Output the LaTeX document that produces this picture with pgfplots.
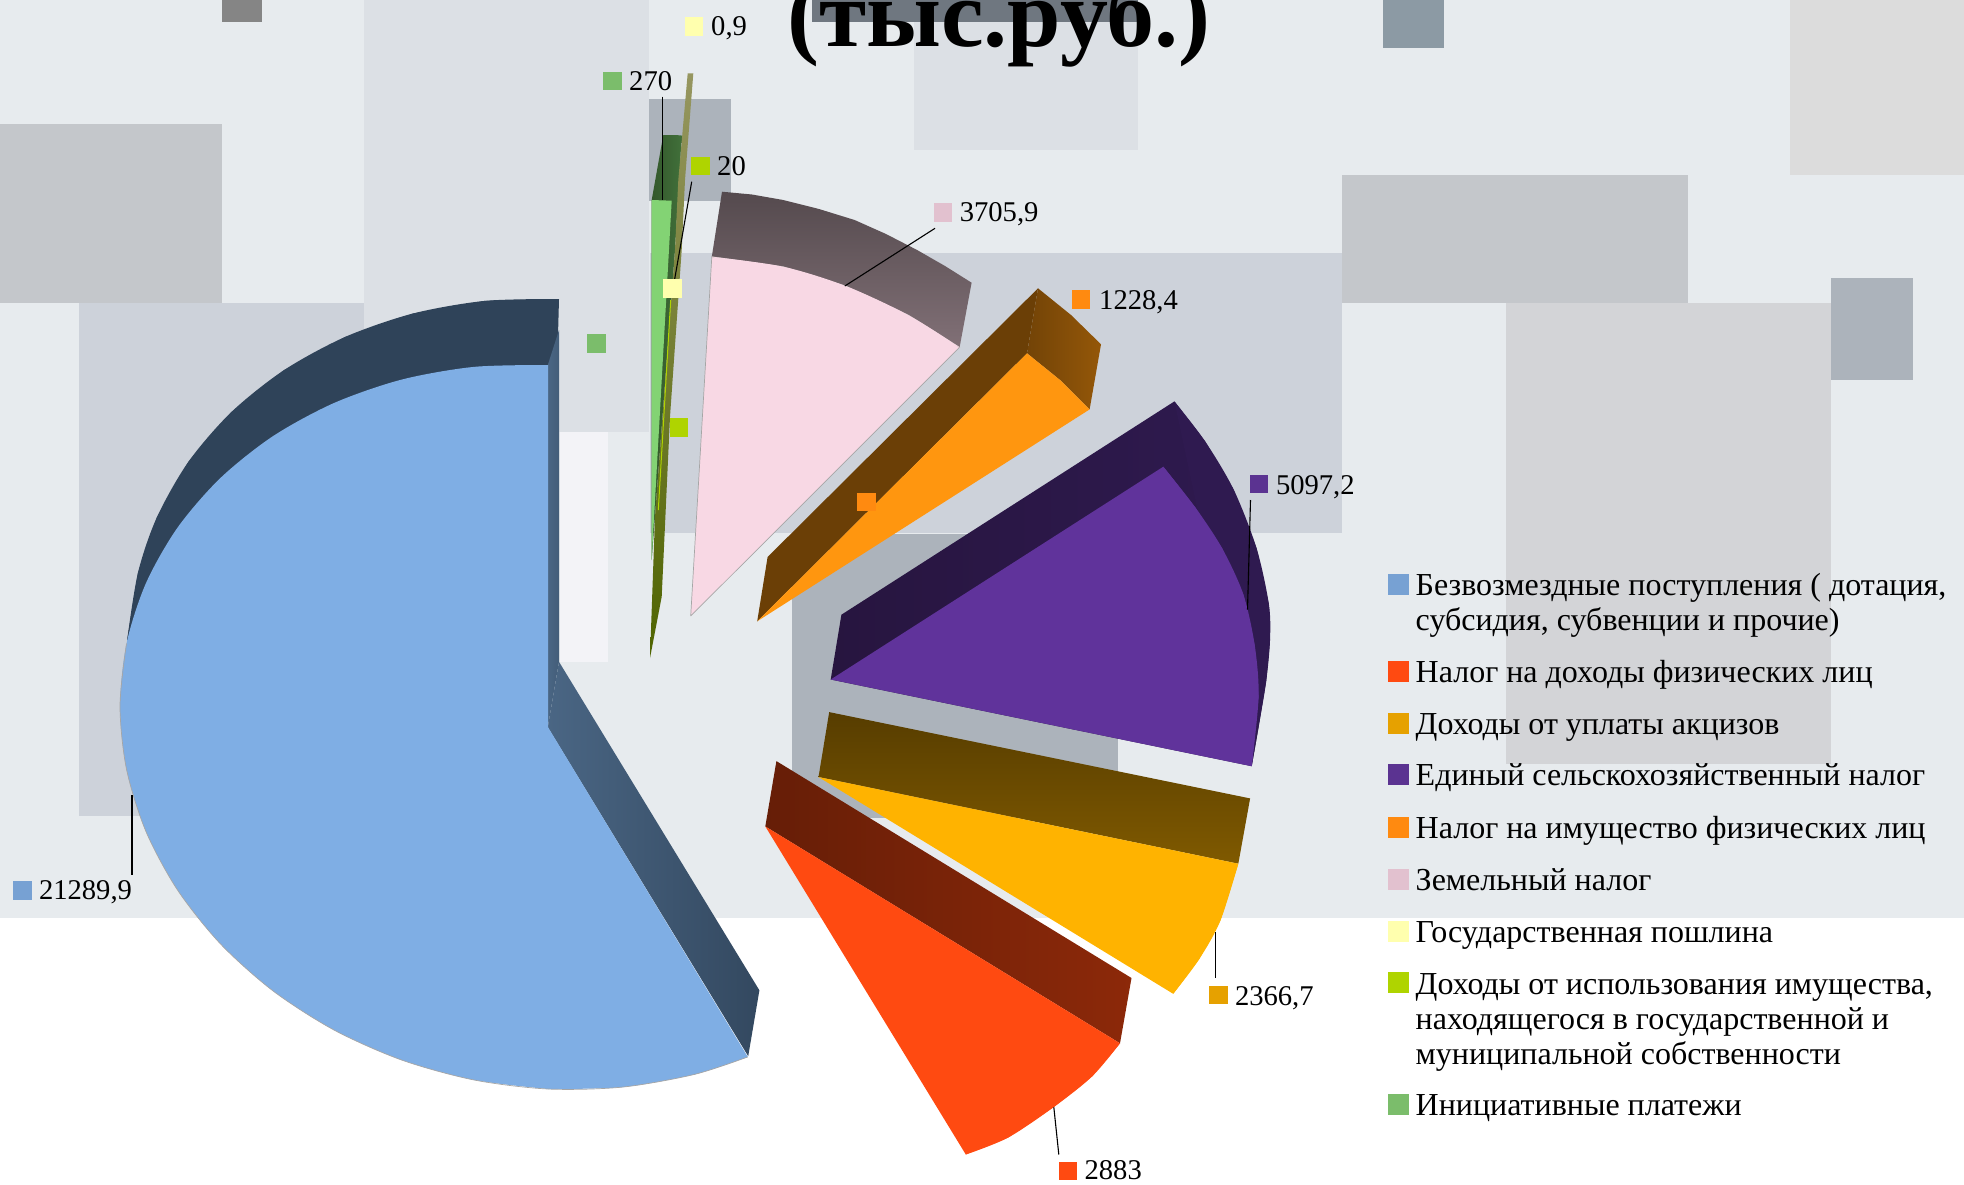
\documentclass[border=0pt]{standalone}
\usepackage{fontspec}
\setmainfont{Liberation Serif}
\usepackage{pgfplots}
\pgfplotsset{compat=1.18}
\definecolor{bgbase}{HTML}{E7EBEE}
\definecolor{cA}{HTML}{DCE0E5}
\definecolor{cB}{HTML}{C4C7CB}
\definecolor{cC}{HTML}{CDD2DA}
\definecolor{cD}{HTML}{ACB3BB}
\definecolor{cE}{HTML}{D3D4D7}
\definecolor{cF}{HTML}{858585}
\definecolor{cG}{HTML}{6F7780}
\definecolor{cH}{HTML}{8C9AA4}
\definecolor{cI}{HTML}{DCDCDC}
\definecolor{cJ}{HTML}{F3F3F7}
\definecolor{mblue}{HTML}{77A1D3}
\definecolor{mred}{HTML}{FF4A11}
\definecolor{mgold}{HTML}{E6A100}
\definecolor{mpurple}{HTML}{5B3391}
\definecolor{morange}{HTML}{FF8A10}
\definecolor{mpink}{HTML}{E2C1CF}
\definecolor{myellow}{HTML}{FFFFAE}
\definecolor{mlime}{HTML}{AFD400}
\definecolor{mgreen}{HTML}{7BBD6B}
\definecolor{fblue}{HTML}{7FAEE4}
\definecolor{dblue}{HTML}{2F4359}
\definecolor{lblue}{HTML}{4A6684}
\definecolor{fred}{HTML}{FF4A11}
\definecolor{fyel}{HTML}{FFB300}
\definecolor{fpur}{HTML}{60339B}
\definecolor{dpur}{HTML}{27153F}
\definecolor{lpur}{HTML}{2F1A50}
\definecolor{ford}{HTML}{FF960F}
\definecolor{fpink}{HTML}{F8D8E4}
\definecolor{fgreen}{HTML}{83D374}
\definecolor{dgreen}{HTML}{33572B}
\definecolor{lgreen}{HTML}{41703A}
\definecolor{olA}{HTML}{969660}
\definecolor{olB}{HTML}{7C7C50}
\definecolor{olC}{HTML}{4F6400}
\newcommand{\rect}[5]{\addplot[fill=#1,draw=none] coordinates {(#2,#3) (#4,#3) (#4,#5) (#2,#5)};}
\newcommand{\sq}[4]{\addplot[only marks,color=#1,mark=square*,mark size=#4pt,mark options={solid,fill=#1,draw=#1,line width=0pt}] coordinates {(#2,#3)};}
\newcommand{\ldr}[4]{\addplot[black,line width=1.1pt] coordinates {(#1,#2) (#3,#4)};}
\newcommand{\lbl}[3]{\node[anchor=base west,inner sep=0pt,font=\fontsize{28.6}{34}\selectfont] at (axis cs:#1,#2) {#3};}
\newcommand{\leg}[3]{\node[anchor=base west,inner sep=0pt,font=\fontsize{32}{36}\selectfont] at (axis cs:#1,#2) {#3};}
\begin{document}
\begin{tikzpicture}
\useasboundingbox (0,0) rectangle (1964pt,1184pt);
\clip (0,0) rectangle (1964pt,1184pt);
\begin{axis}[at={(0,0)},anchor=south west,width=1964pt,height=1184pt,scale only axis,
  xmin=0,xmax=1964,ymin=0,ymax=1184,y dir=reverse,hide axis,clip=false]
% background
\rect{bgbase}{0}{0}{1964}{918}
\rect{cF}{222}{0}{262}{22}
\rect{cA}{364}{0}{649}{432}
\rect{cB}{0}{124}{222}{303}
\rect{cC}{79}{303}{364}{816}
\rect{cC}{650}{253}{1342}{533}
\rect{cD}{649}{99}{730.5}{201}
\rect{cA}{914}{22}{1138}{150}
\rect{cG}{812}{0}{1138}{22}
\rect{cJ}{560}{432}{608}{662}
\rect{cB}{1342}{175}{1688}{303}
\rect{cE}{1506}{303}{1831}{764}
\rect{cD}{1831}{278}{1913}{380}
\rect{cD}{792}{534}{1118}{818}
\rect{cH}{1383}{0}{1444}{48}
\rect{cI}{1790}{0}{1964}{175}
% blue wedge: extrusion
\addplot[fill=dblue,draw=none,smooth] coordinates {(559,299) (484.7,300.9) (412.6,313.6) (345,337) (283.9,370.2) (231.2,412.2) (188.4,461.8) (156.8,517.5) (137.9,573) (127,641)};
\addplot[fill=dblue,draw=none] coordinates {(559,299) (484.7,300.9) (412.6,313.6) (345,337) (283.9,370.2) (231.2,412.2) (188.4,461.8) (156.8,517.5) (137.9,573) (127,641) (548,700)};
\addplot[draw=none,left color=lblue,right color=lblue!75!dblue] coordinates {(547.8,365) (559,330) (559,661.8) (547.8,727.2)};
\addplot[draw=none,left color=lblue,right color=dblue!85!lblue] coordinates {(547.8,727.2) (559,661.8) (759.4,990.3) (748.2,1056.2)};
\addplot[fill=fblue,draw=none,smooth] coordinates {(548,365) (473.7,366.9) (401.6,379.6) (334,403) (272.9,436.2) (220.2,478.2) (177.4,527.8) (145.8,583.5) (126.5,643.5) (120,706) (126.5,769.1) (145.8,831.1) (177.4,889.8) (220.2,943.6) (272.9,990.8) (334,1030) (401.6,1060) (473.7,1079.9) (548,1089)};
\addplot[fill=fblue,draw=none,smooth] coordinates {(548,1089) (622.3,1087.1) (694.4,1074.4) (747.8,1056.9)};
\addplot[fill=fblue,draw=none] coordinates {(548,727.2) (548,1089) (622.3,1087.1) (694.4,1074.4) (747.8,1056.9)};
\addplot[draw=gray!70,line width=0.7pt,smooth,fill=none] coordinates {(126.5,643.5) (120,706) (126.5,769.1) (145.8,831.1) (177.4,889.8) (220.2,943.6) (272.9,990.8) (334,1030) (401.6,1060) (473.7,1079.9) (548,1089) (622.3,1087.1) (694.4,1074.4) (747.8,1056.9)};
% red wedge
\addplot[draw=none,left color=black!60!fred,right color=black!45!fred] coordinates {(765.3,826.4) (776.4,761.1) (1131.5,978) (1120,1043.3)};
\addplot[fill=fred,draw=none] coordinates {(765.3,826.4) (1120,1043.3) (1092.1,1076.4) (1053.8,1107) (1007.9,1137.7) (965.8,1154.5)};
\addplot[fill=fred,draw=none,smooth] coordinates {(965.8,1154.5) (1007.9,1137.7) (1053.8,1107) (1092.1,1076.4) (1120,1043.3)};
% yellow wedge
\addplot[draw=none,top color=black!66!fyel,bottom color=black!50!fyel] coordinates {(818.5,777) (829.2,712.1) (1250.1,798.4) (1238.3,863.7)};
\addplot[fill=fyel,draw=none] coordinates {(818.5,777) (1238.3,863.7) (1220.3,920.8) (1199.2,959.1) (1173.2,993.8)};
\addplot[fill=fyel,draw=none,smooth] coordinates {(1173.2,993.8) (1199.2,959.1) (1220.3,920.8) (1238.3,863.7)};
% purple wedge
\addplot[draw=none,left color=dpur,right color=lpur] coordinates {(830.7,679.5) (841.4,614.7) (1174.4,401.4) (1205,441.2) (1233.7,489.7) (1256.6,548.4) (1268.9,604.5) (1270,640.2) (1266.2,681) (1258.6,726.9) (1251.7,766.2)};
\addplot[fill=lpur,draw=none,smooth] coordinates {(1174.4,401.4) (1205,441.2) (1233.7,489.7) (1256.6,548.4) (1268.9,604.5) (1270,640.2) (1266.2,681) (1258.6,726.9) (1251.7,766.2)};
\addplot[fill=fpur,draw=none] coordinates {(830.7,679.5) (1163.3,466.7) (1195.4,507.6) (1222.2,548.4) (1243.3,594.3) (1254.7,645.3) (1258.6,696.3) (1251.7,766.2)};
\addplot[fill=fpur,draw=none,smooth] coordinates {(1163.3,466.7) (1195.4,507.6) (1222.2,548.4) (1243.3,594.3) (1254.7,645.3) (1258.6,696.3) (1251.7,766.2)};
% orange wedge
\addplot[fill=black!58!ford,draw=none] coordinates {(757.2,621.3) (767.6,557) (1038,288.3) (1027,353.3)};
\addplot[draw=none,left color=black!55!ford,right color=black!42!ford] coordinates {(1038,288.3) (1071,315) (1101,344.3) (1089.6,409.4) (1060,380) (1027,353.3)};
\addplot[fill=ford,draw=none] coordinates {(757.2,621.3) (1027,353.3) (1060,380) (1089.6,409.4)};
% pink wedge
\addplot[draw=none,top color=black!66!fpink,bottom color=black!48!fpink] coordinates {(722,191.7) (711.8,256.7) (959.6,347.3) (971.6,282.7) (945,266) (917.1,250) (886,234) (854.6,220) (819,209) (783.2,200) (752,194.5)};
\addplot[fill=fpink,draw=gray!70,line width=0.7pt] coordinates {(690.7,616) (711.8,256.7) (783.2,266.7) (845.7,286) (908.2,315) (959.6,347.3) (690.7,616)};
\addplot[fill=fpink,draw=none,smooth] coordinates {(711.8,256.7) (783.2,266.7) (845.7,286) (908.2,315) (959.6,347.3)};
% thin green wedge
\addplot[draw=none,left color=dgreen,right color=lgreen] coordinates {(651.7,200) (663.3,135) (681.7,135.3) (675,250) (651.7,560)};
\addplot[fill=fgreen,draw=none] coordinates {(651.7,200) (671.7,200.7) (651.7,560)};
% thin olive wedge
\addplot[draw=none,top color=olA,middle color=olB,bottom color=olC] coordinates {(687.7,73.3) (693.3,73.3) (685,180) (681.7,250) (670,416.7) (661.7,596.7) (650,658) (655,516.7) (675,250) (678.3,180)};
\addplot[mlime,line width=1pt] coordinates {(670.7,300) (658.3,510)};
% leaders
\ldr{662.3}{96.7}{662.3}{200}
\ldr{691.7}{181.7}{671.6}{296.7}
\ldr{935}{228.3}{844.8}{286}
\ldr{1250.5}{500}{1247.5}{609.6}
\ldr{1215.3}{932}{1215.3}{978}
\ldr{1053.8}{1107}{1058.8}{1154.5}
\ldr{132}{795}{132}{874.7}
% data label markers
\sq{myellow}{693.9}{26.3}{8.8}
\sq{mgreen}{612.7}{81}{8.8}
\sq{mlime}{700.6}{166}{8.8}
\sq{mpink}{943}{212.7}{8.8}
\sq{morange}{1081}{299.3}{8.8}
\sq{mpurple}{1259}{484}{8.8}
\sq{mgold}{1218.4}{994.8}{8.8}
\sq{mred}{1068}{1170.8}{8.8}
\sq{mblue}{22.5}{890.6}{8.8}
\sq{mgreen}{596.6}{343.3}{8.8}
\sq{myellow}{672.5}{288.3}{8.8}
\sq{mlime}{679}{427.7}{8.8}
\sq{morange}{866.3}{502}{8.8}
% legend markers
\sq{mblue}{1398}{584.2}{10}
\sq{mred}{1398}{671}{10}
\sq{mgold}{1398}{723}{10}
\sq{mpurple}{1398}{774.8}{10}
\sq{morange}{1398}{827}{10}
\sq{mpink}{1398}{879}{10}
\sq{myellow}{1398}{931}{10}
\sq{mlime}{1398}{982.7}{10}
\sq{mgreen}{1398}{1104.5}{10}
% data labels
\lbl{711}{35}{0,9}
\lbl{629}{90}{270}
\lbl{717}{175}{20}
\lbl{959.6}{221.7}{3705,9}
\lbl{1099}{309.3}{1228,4}
\lbl{1275.8}{494.8}{5097,2}
\lbl{1234.8}{1005}{2366,7}
\lbl{1084.4}{1179}{2883}
\lbl{38.8}{899.8}{21289,9}
% legend
\leg{1415.5}{595.5}{Безвозмездные поступления ( дотация,}
\leg{1415.5}{630.5}{субсидия, субвенции и прочие)}
\leg{1415.5}{682}{Налог на доходы физических лиц}
\leg{1415.5}{734}{Доходы от уплаты акцизов}
\leg{1415.5}{785.5}{Единый сельскохозяйственный налог}
\leg{1415.5}{838}{Налог на имущество физических лиц}
\leg{1415.5}{890}{Земельный налог}
\leg{1415.5}{942}{Государственная пошлина}
\leg{1415.5}{994}{Доходы от использования имущества,}
\leg{1415.5}{1029}{находящегося в государственной и}
\leg{1415.5}{1064}{муниципальной собственности}
\leg{1415.5}{1115.5}{Инициативные платежи}
% title, cut by the page edge
\node[anchor=base west,inner sep=0pt,font=\fontsize{96}{110}\selectfont\bfseries] at (axis cs:787,46) {(тыс.руб.)};
\end{axis}
\end{tikzpicture}
\end{document}
